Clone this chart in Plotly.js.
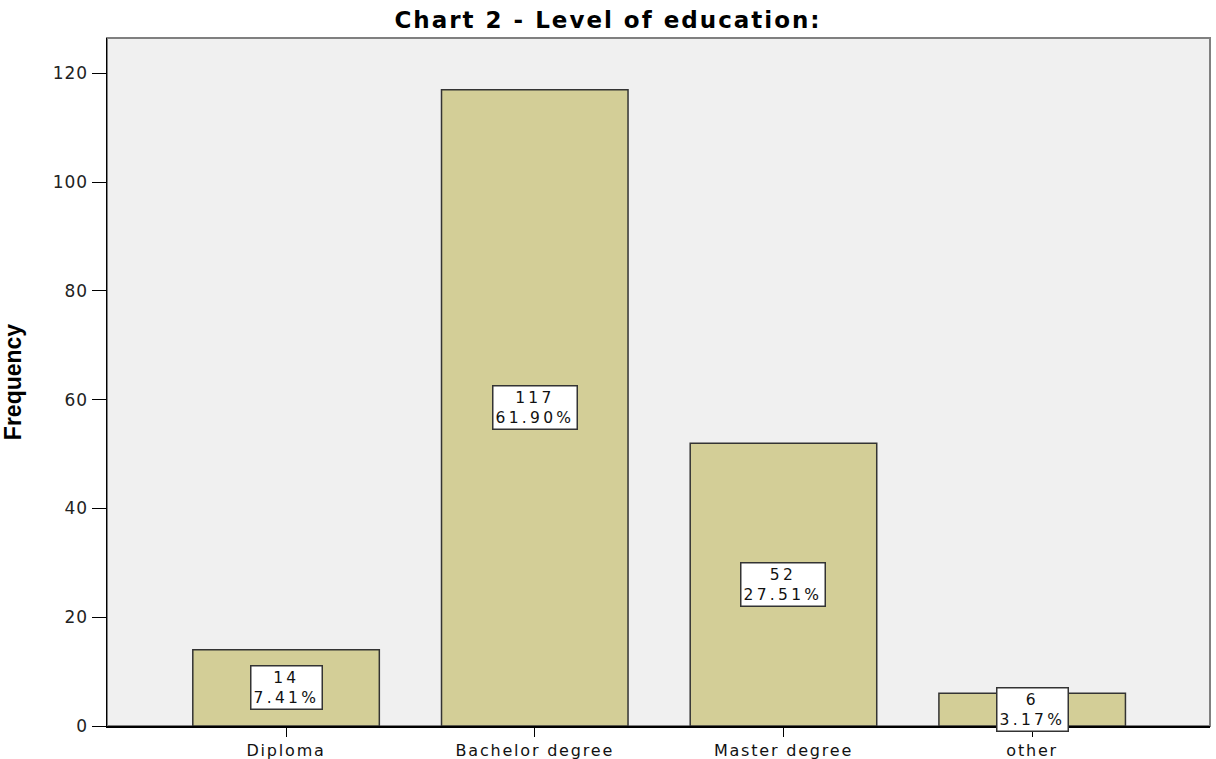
<!DOCTYPE html>
<html>
<head>
<meta charset="utf-8">
<script src="https://cdn.plot.ly/plotly-3.0.1.min.js"></script>
<style>
html,body{margin:0;padding:0;background:#fff;}
#chart{width:1216px;height:759px;}
.gtitle{letter-spacing:2px;}
.xtick text{letter-spacing:1.8px;}
.ytick text{letter-spacing:1px;}
.annotation-text{letter-spacing:3.3px;}
</style>
</head>
<body>
<div id="chart"></div>
<script>
const categories = ["Diploma", "Bachelor degree", "Master degree", "other"];
const frequencies = [14, 117, 52, 6];
const percents = ["7.41%", "61.90%", "27.51%", "3.17%"];

const FONT = 'DejaVu Sans, Verdana, sans-serif';
const AFONT = 'Liberation Sans, Arial, sans-serif';

const annotations = categories.map((c, i) => ({
  x: c, y: frequencies[i] / 2, xref: 'x', yref: 'y',
  text: frequencies[i] + '<br>' + percents[i],
  showarrow: false,
  font: {family: FONT, size: 15.5, color: '#111'},
  bgcolor: '#ffffff', bordercolor: '#333333', borderwidth: 1.5, borderpad: 2,
  align: 'center'
}));

const data = [{
  type: 'bar', x: categories, y: frequencies, width: 0.75,
  marker: {color: '#d3ce97', line: {color: '#333333', width: 1.5}},
  hoverinfo: 'skip'
}];

const layout = {
  width: 1216, height: 759,
  margin: {l: 107, r: 6, t: 38, b: 33},
  paper_bgcolor: '#ffffff', plot_bgcolor: '#f0f0f0',
  title: {text: '<b>Chart 2 - Level of education:</b>', x: 0.5, xanchor: 'center', y: 0.9736, yanchor: 'middle',
    font: {family: FONT, size: 23, color: '#000'}},
  xaxis: {type: 'category', range: [-0.72, 3.715], showgrid: false, zeroline: false,
    showline: true, linecolor: '#000', linewidth: 1.5, ticks: 'outside', ticklen: 9, tickcolor: '#000',
    tickfont: {family: FONT, size: 16, color: '#111'}},
  yaxis: {range: [0, 126.5], dtick: 20, showgrid: false, zeroline: false,
    showline: true, linecolor: '#000', linewidth: 1.5, ticks: 'outside', ticklen: 14, tickcolor: '#000',
    tickfont: {family: FONT, size: 17, color: '#222'},
    title: {text: '<b>Frequency</b>', standoff: 36,
      font: {family: AFONT, size: 23, color: '#000'}}},
  shapes: [{type: 'rect', xref: 'paper', yref: 'paper', x0: 0, x1: 1, y0: 0, y1: 1,
    line: {color: '#808080', width: 2}, layer: 'below'}],
  annotations: annotations,
  showlegend: false
};

Plotly.newPlot('chart', data, layout, {displayModeBar: false, staticPlot: true});
</script>
</body>
</html>
